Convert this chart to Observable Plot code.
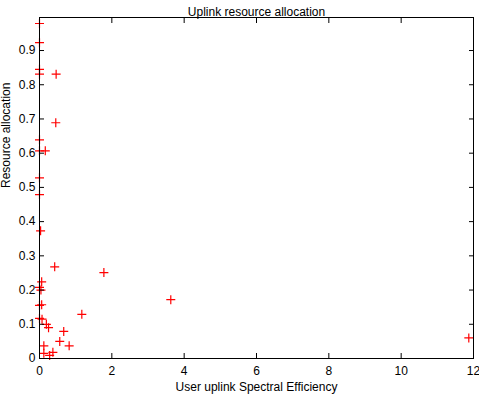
<!DOCTYPE html>
<html>
<head>
<meta charset="utf-8">
<script src="https://cdn.jsdelivr.net/npm/d3@7"></script>
<script src="https://cdn.jsdelivr.net/npm/@observablehq/plot@0.6"></script>
<style>
  html, body { margin: 0; padding: 0; background: #fff; }
  svg { display: block; }
</style>
</head>
<body>
<div id="chart"></div>
<script>
const titleText = "Uplink resource allocation";
const xLabel = "User uplink Spectral Efficiency";
const yLabel = "Resource allocation";

const efficiency = [0, 0, 0, 0, 0.46, 0.45, 0, 0, 0.16, 0, 0, 0.03, 0.42, 0.06, 0.0, 0.04,
  0, 0.06, 0, 0.07, 0.19, 0.25, 0.12, 0.12, 0.28, 0.37, 0.56, 0.67, 0.82, 1.17, 1.78, 3.63, 11.87];
const allocation = [0.979, 0.923, 0.845, 0.831, 0.831, 0.689, 0.639, 0.607, 0.607, 0.528, 0.479, 0.373, 0.268, 0.224, 0.208, 0.200,
  0.155, 0.157, 0.117, 0.115, 0.100, 0.090, 0.037, 0.015, 0.009, 0.018, 0.050, 0.079, 0.037, 0.129, 0.251, 0.172, 0.060];

const xTicks = [0, 2, 4, 6, 8, 10, 12];
const yTicks = [0, 0.1, 0.2, 0.3, 0.4, 0.5, 0.6, 0.7, 0.8, 0.9];

const data = efficiency.map((x, i) => ({x, y: allocation[i]}));

const plusSymbol = {
  draw(context, size) {
    const r = Math.sqrt(size / Math.PI);
    context.moveTo(-r, 0); context.lineTo(r, 0);
    context.moveTo(0, -r); context.lineTo(0, r);
  }
};

const chart = Plot.plot({
  width: 479,
  height: 396,
  marginLeft: 39,
  marginRight: 6,
  marginTop: 17,
  marginBottom: 38,
  style: {fontFamily: "'Liberation Sans', Arial, Helvetica, sans-serif", fontSize: "12px", color: "#000", background: "#fff"},
  x: {domain: [0, 12], ticks: xTicks, label: null},
  y: {domain: [0, 0.9965], ticks: yTicks, label: null},
  marks: [
    Plot.dot(data, {x: "x", y: "y", symbol: plusSymbol, r: 4.5, stroke: "#ff0000", strokeWidth: 1.2, fill: "none"}),
    Plot.frame({stroke: "#000", strokeWidth: 1}),
    Plot.axisX(xTicks, {anchor: "bottom", tickSize: -5, tickPadding: 13, tickFormat: d => String(d), label: null, fill: "#000", stroke: "#000", fontSize: 12}),
    Plot.axisX(xTicks, {anchor: "top", tickSize: -5, tickFormat: () => "", label: null, stroke: "#000"}),
    Plot.axisY(yTicks, {anchor: "left", tickSize: -5, tickPadding: 9, tickFormat: d => d === 0 ? "0" : d.toFixed(1), label: null, fill: "#000", stroke: "#000", fontSize: 12}),
    Plot.axisY(yTicks, {anchor: "right", tickSize: -5, tickFormat: () => "", label: null, stroke: "#000"}),
    Plot.text([titleText], {frameAnchor: "top", text: d => d, dy: -10, fill: "#000", fontSize: 12}),
    Plot.text([xLabel], {frameAnchor: "bottom", text: d => d, dy: 32, fill: "#000", fontSize: 12}),
    Plot.text([yLabel], {frameAnchor: "left", text: d => d, dx: -33, rotate: -90, fill: "#000", fontSize: 12})
  ]
});
document.getElementById("chart").appendChild(chart);
</script>
</body>
</html>
